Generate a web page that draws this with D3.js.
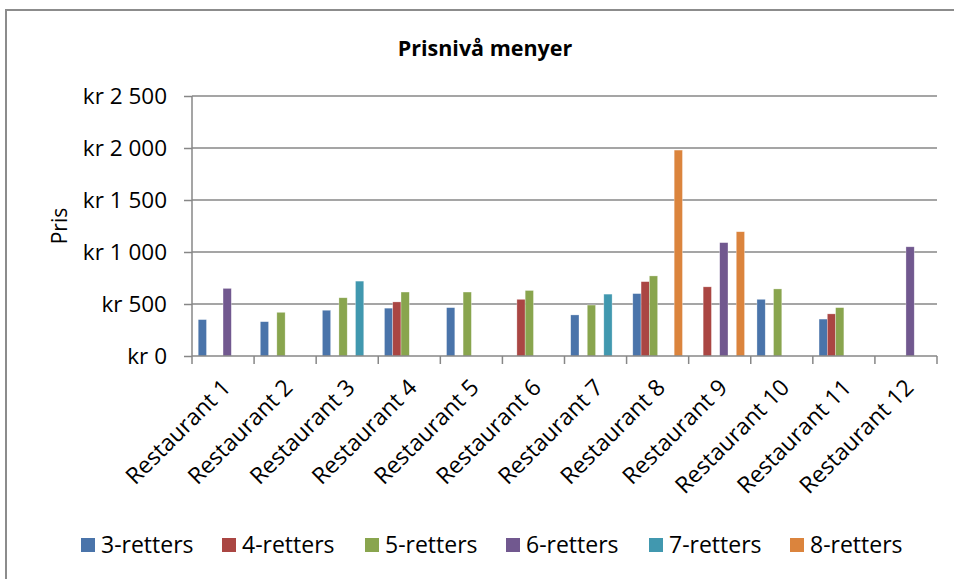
<!DOCTYPE html>
<html>
<head>
<meta charset="utf-8">
<script src="https://cdn.jsdelivr.net/npm/d3@7"></script>
<style>
  body { margin: 0; background: #fff; }
  svg { display: block; font-family: "Open Sans", sans-serif; }
</style>
</head>
<body>
<div id="chart"></div>
<script>
// dati del grafico
const categories = ["Restaurant 1", "Restaurant 2", "Restaurant 3", "Restaurant 4", "Restaurant 5", "Restaurant 6",
  "Restaurant 7", "Restaurant 8", "Restaurant 9", "Restaurant 10", "Restaurant 11", "Restaurant 12"];
const seriesNames = ["3-retters", "4-retters", "5-retters", "6-retters", "7-retters", "8-retters"];
const seriesColors = ["#4A74AA", "#AA4643", "#89A54E", "#71588F", "#4198AF", "#DB843D"];
const retter3 = [350, 330, 440, 460, 465, null, 395, 600, null, 545, 355, null];
const retter4 = [null, null, null, 520, null, 545, null, 715, 665, null, 405, null];
const retter5 = [null, 420, 560, 615, 615, 630, 490, 770, null, 645, 465, null];
const retter6 = [650, null, null, null, null, null, null, null, 1090, null, null, 1050];
const retter7 = [null, null, 720, null, null, null, 595, null, null, null, null, null];
const retter8 = [null, null, null, null, null, null, null, 1980, 1195, null, null, null];
const seriesValues = [retter3, retter4, retter5, retter6, retter7, retter8];
const yTicks = [0, 500, 1000, 1500, 2000, 2500];

const width = 954, height = 579;
const margin = { left: 192, right: 17, top: 96, bottom: 223 };
const plotW = width - margin.left - margin.right;
const plotH = height - margin.top - margin.bottom;
const fontSize = 23;

const svg = d3.select("#chart").append("svg")
  .attr("width", width)
  .attr("height", height);

// cornice esterna
svg.append("rect")
  .attr("x", 6).attr("y", 10)
  .attr("width", 960).attr("height", 600)
  .attr("fill", "none")
  .attr("stroke", "#8c8c8c")
  .attr("stroke-width", 2);

svg.append("text")
  .attr("x", 485).attr("y", 56)
  .attr("text-anchor", "middle")
  .attr("font-weight", "bold")
  .attr("font-size", 21.5)
  .attr("fill", "#000")
  .text("Prisnivå menyer");

const g = svg.append("g").attr("transform", `translate(${margin.left},${margin.top})`);

const x0 = d3.scaleBand().domain(categories).range([0, plotW]).padding(0);
const x1 = d3.scaleBand().domain(seriesNames)
  .range([x0.bandwidth() * 0.1, x0.bandwidth() * 0.9]).padding(0);
const y = d3.scaleLinear().domain([0, 2500]).range([plotH, 0]);

const fmt = d => "kr " + d3.format(",")(d).replace(/,/g, " ");

// griglia
g.append("g")
  .selectAll("line")
  .data(yTicks.slice(1))
  .enter().append("line")
  .attr("x1", 0).attr("x2", plotW)
  .attr("y1", d => y(d)).attr("y2", d => y(d))
  .attr("stroke", "#878787")
  .attr("stroke-width", 1.5);

// barre
const rows = [];
seriesNames.forEach((s, i) => {
  seriesValues[i].forEach((v, j) => {
    if (v != null) rows.push({ serie: s, cat: categories[j], value: v, color: seriesColors[i] });
  });
});

g.append("g")
  .selectAll("rect")
  .data(rows)
  .enter().append("rect")
  .attr("x", d => x0(d.cat) + x1(d.serie))
  .attr("y", d => y(d.value))
  .attr("width", x1.bandwidth())
  .attr("height", d => plotH - y(d.value))
  .attr("fill", d => d.color)
  .attr("stroke", "#ffffff")
  .attr("stroke-opacity", 0.5)
  .attr("stroke-width", 0.6);

// asse y
const yAxis = g.append("g")
  .call(d3.axisLeft(y).tickValues(yTicks).tickFormat(fmt).tickSize(8).tickPadding(17));
yAxis.select(".domain").attr("stroke", "#878787").attr("stroke-width", 1.5).attr("d", `M0,${plotH}V0`);
yAxis.selectAll(".tick line").attr("stroke", "#878787").attr("stroke-width", 1.5);
yAxis.selectAll("text").attr("font-size", 22.5).attr("fill", "#000").attr("font-family", "'Open Sans', sans-serif");

// asse x
const xAxis = g.append("g").attr("transform", `translate(0,${plotH})`);
xAxis.append("line")
  .attr("x1", 0).attr("x2", plotW)
  .attr("stroke", "#878787").attr("stroke-width", 1.5);
xAxis.selectAll(".xtick")
  .data(d3.range(categories.length + 1))
  .enter().append("line")
  .attr("class", "xtick")
  .attr("x1", i => i * x0.step()).attr("x2", i => i * x0.step())
  .attr("y1", 0).attr("y2", 8)
  .attr("stroke", "#878787").attr("stroke-width", 1.5);
xAxis.selectAll(".xlabel")
  .data(categories)
  .enter().append("text")
  .attr("class", "xlabel")
  .attr("text-anchor", "end")
  .attr("font-size", fontSize)
  .attr("fill", "#000")
  .attr("transform", d => `translate(${x0(d) + x0.bandwidth() / 2 + 9},${33}) rotate(-45)`)
  .text(d => d);

// titolo asse y
svg.append("text")
  .attr("transform", `translate(67,${margin.top + plotH / 2}) rotate(-90)`)
  .attr("text-anchor", "middle")
  .attr("font-size", 21)
  .attr("fill", "#000")
  .text("Pris");

// legenda
const legendX = [81, 222, 365, 506, 649, 790];
const legend = svg.append("g")
  .selectAll("g")
  .data(seriesNames)
  .enter().append("g")
  .attr("transform", (d, i) => `translate(${legendX[i]},538)`);
legend.append("rect")
  .attr("width", 14).attr("height", 14)
  .attr("fill", (d, i) => seriesColors[i]);
legend.append("text")
  .attr("x", 20).attr("y", 15)
  .attr("font-size", fontSize)
  .attr("fill", "#000")
  .text(d => d);
</script>
</body>
</html>
